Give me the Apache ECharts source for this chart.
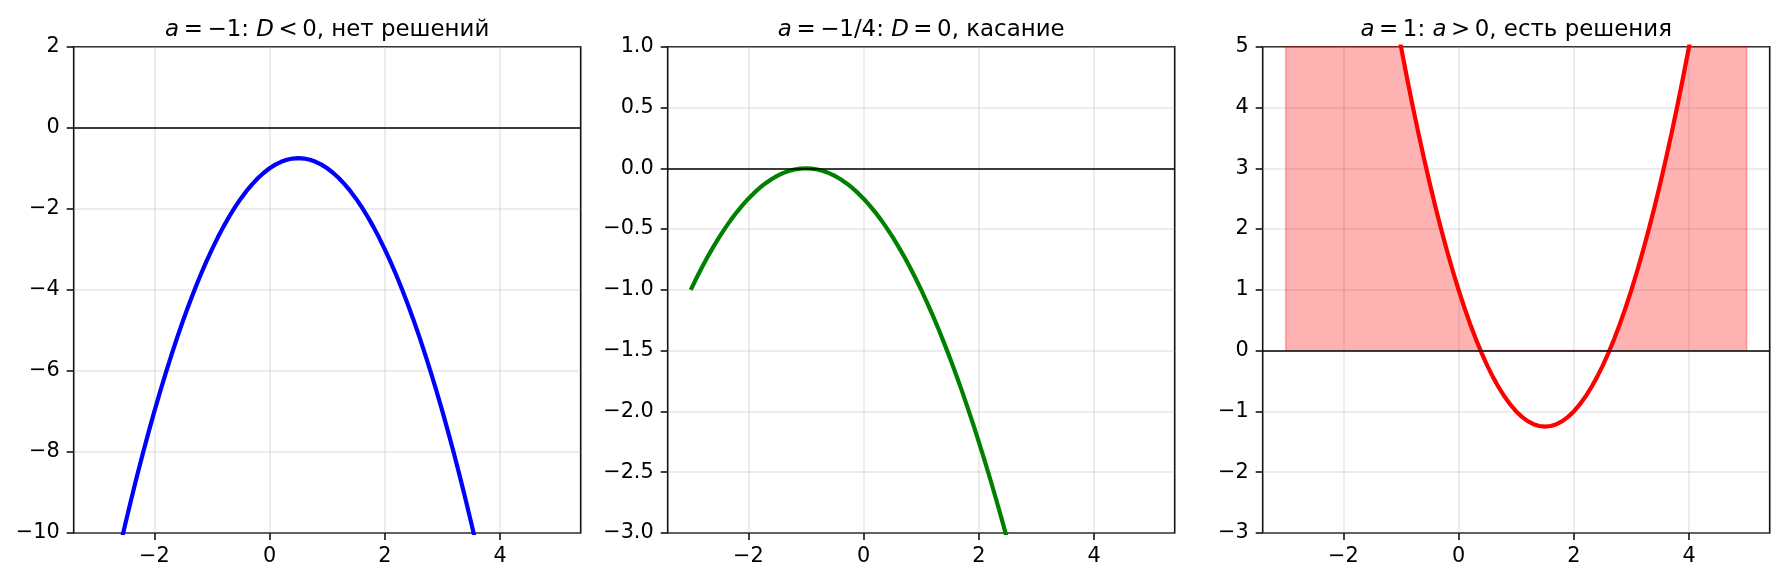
<!DOCTYPE html>
<html>
<head>
<meta charset="utf-8">
<script src="https://cdn.jsdelivr.net/npm/echarts@6/dist/echarts.min.js"></script>
<style>
html,body{margin:0;padding:0;background:#fff;}
#chart{width:1785px;height:583px;}
</style>
</head>
<body>
<div id="chart"></div>
<script>
// ---- data ----
const xs = [-3, -2.9, -2.8, -2.7, -2.6, -2.5, -2.4, -2.3, -2.2, -2.1,
            -2, -1.9, -1.8, -1.7, -1.6, -1.5, -1.4, -1.3, -1.2, -1.1,
            -1, -0.9, -0.8, -0.7, -0.6, -0.5, -0.4, -0.3, -0.2, -0.1,
            0, 0.1, 0.2, 0.3, 0.4, 0.5, 0.6, 0.7, 0.8, 0.9,
            1, 1.1, 1.2, 1.3, 1.4, 1.5, 1.6, 1.7, 1.8, 1.9,
            2, 2.1, 2.2, 2.3, 2.4, 2.5, 2.6, 2.7, 2.8, 2.9,
            3, 3.1, 3.2, 3.3, 3.4, 3.5, 3.6, 3.7, 3.8, 3.9,
            4, 4.1, 4.2, 4.3, 4.4, 4.5, 4.6, 4.7, 4.8, 4.9, 5];
// panel 1: a = -1
const yA = [-13, -12.31, -11.64, -10.99, -10.36, -9.75, -9.16, -8.59, -8.04, -7.51,
            -7, -6.51, -6.04, -5.59, -5.16, -4.75, -4.36, -3.99, -3.64, -3.31,
            -3, -2.71, -2.44, -2.19, -1.96, -1.75, -1.56, -1.39, -1.24, -1.11,
            -1, -0.91, -0.84, -0.79, -0.76, -0.75, -0.76, -0.79, -0.84, -0.91,
            -1, -1.11, -1.24, -1.39, -1.56, -1.75, -1.96, -2.19, -2.44, -2.71,
            -3, -3.31, -3.64, -3.99, -4.36, -4.75, -5.16, -5.59, -6.04, -6.51,
            -7, -7.51, -8.04, -8.59, -9.16, -9.75, -10.36, -10.99, -11.64, -12.31,
            -13, -13.71, -14.44, -15.19, -15.96, -16.75, -17.56, -18.39, -19.24, -20.11, -21];
// panel 2: a = -1/4
const yB = [-1, -0.9025, -0.81, -0.7225, -0.64, -0.5625, -0.49, -0.4225, -0.36, -0.3025,
            -0.25, -0.2025, -0.16, -0.1225, -0.09, -0.0625, -0.04, -0.0225, -0.01, -0.0025,
            0, -0.0025, -0.01, -0.0225, -0.04, -0.0625, -0.09, -0.1225, -0.16, -0.2025,
            -0.25, -0.3025, -0.36, -0.4225, -0.49, -0.5625, -0.64, -0.7225, -0.81, -0.9025,
            -1, -1.1025, -1.21, -1.3225, -1.44, -1.5625, -1.69, -1.8225, -1.96, -2.1025,
            -2.25, -2.4025, -2.56, -2.7225, -2.89, -3.0625, -3.24, -3.4225, -3.61, -3.8025,
            -4, -4.2025, -4.41, -4.6225, -4.84, -5.0625, -5.29, -5.5225, -5.76, -6.0025,
            -6.25, -6.5025, -6.76, -7.0225, -7.29, -7.5625, -7.84, -8.1225, -8.41, -8.7025, -9];
// panel 3: a = 1
const yC = [19, 18.11, 17.24, 16.39, 15.56, 14.75, 13.96, 13.19, 12.44, 11.71,
            11, 10.31, 9.64, 8.99, 8.36, 7.75, 7.16, 6.59, 6.04, 5.51,
            5, 4.51, 4.04, 3.59, 3.16, 2.75, 2.36, 1.99, 1.64, 1.31,
            1, 0.71, 0.44, 0.19, -0.04, -0.25, -0.44, -0.61, -0.76, -0.89,
            -1, -1.09, -1.16, -1.21, -1.24, -1.25, -1.24, -1.21, -1.16, -1.09,
            -1, -0.89, -0.76, -0.61, -0.44, -0.25, -0.04, 0.19, 0.44, 0.71,
            1, 1.31, 1.64, 1.99, 2.36, 2.75, 3.16, 3.59, 4.04, 4.51,
            5, 5.51, 6.04, 6.59, 7.16, 7.75, 8.36, 8.99, 9.64, 10.31, 11];
const rootsC = [0.382, 2.618];
const xTicks = [-2, 0, 2, 4];
const yRanges = [[-10, 2, 2], [-3, 1, 0.5], [-3, 5, 1]];
const T = '\u2009'; // thin space, like mathtext operator spacing
const titles = [
  '{i|a}' + T + '=' + T + '−1: {i|D}' + T + '<' + T + '0, нет решений',
  '{i|a}' + T + '=' + T + '−1/4: {i|D}' + T + '=' + T + '0, касание',
  '{i|a}' + T + '=' + T + '1: {i|a}' + T + '>' + T + '0, есть решения'
];
const colors = ['#0000ff', '#008000', '#ff0000'];

// ---- layout ----
const gridLeft = [73.7, 667.7, 1262.7];
const gridW = 507;
const gridTop = 46.7;
const gridH = 486.3;
const FONT = 'DejaVu Sans';

function pairs(x, y) { return x.map((v, i) => [v, y[i]]); }
function fmt(dec) {
  return v => (dec ? v.toFixed(1) : String(Math.round(v))).replace('-', '−');
}

// fill region where yC > 0
const fillC = [[xs[0], 0]];
xs.forEach((x, i) => { if (x < rootsC[0] && yC[i] > 0) fillC.push([x, yC[i]]); });
fillC.push([rootsC[0], 0]);
fillC.push([rootsC[1], 0]);
xs.forEach((x, i) => { if (x > rootsC[1] && yC[i] > 0) fillC.push([x, yC[i]]); });
fillC.push([xs[xs.length - 1], 0]);

const grids = [], xAxes = [], yAxes = [], series = [], title = [];
const ys = [yA, yB, yC];
for (let k = 0; k < 3; k++) {
  grids.push({ left: gridLeft[k], top: gridTop, width: gridW, height: gridH,
    show: true, borderColor: '#111', borderWidth: 1.6, backgroundColor: 'transparent' });
  xAxes.push({
    type: 'value', gridIndex: k, min: -3.4, max: 5.4, position: 'bottom',
    axisLine: { show: false, onZero: false },
    axisTick: { show: true, customValues: xTicks, length: 7, inside: false, lineStyle: { color: '#111', width: 1.6 } },
    axisLabel: { customValues: xTicks, formatter: fmt(false), color: '#000', fontFamily: FONT, fontSize: 20.8, margin: 13 },
    splitLine: { show: true, lineStyle: { color: 'rgba(176,176,176,0.3)', width: 1.6 } }
  });
  const yr = yRanges[k];
  yAxes.push({
    type: 'value', gridIndex: k, min: yr[0], max: yr[1], interval: yr[2], position: 'left',
    axisLine: { show: false, onZero: false },
    axisTick: { show: true, length: 7, inside: false, lineStyle: { color: '#111', width: 1.6 } },
    axisLabel: { formatter: fmt(k === 1), color: '#000', fontFamily: FONT, fontSize: 20.8, margin: 14 },
    splitLine: { show: true, lineStyle: { color: 'rgba(176,176,176,0.3)', width: 1.6 } }
  });
  title.push({
    text: titles[k], left: gridLeft[k] + gridW / 2, top: 19, textAlign: 'center', padding: 0,
    textStyle: { fontFamily: FONT, fontSize: 22.9, fontWeight: 'normal', color: '#000',
      rich: { i: { fontFamily: FONT, fontSize: 22.9, fontStyle: 'italic', color: '#000' } } }
  });
  if (k === 2) {
    series.push({
      type: 'line', xAxisIndex: k, yAxisIndex: k, data: fillC, showSymbol: false, symbol: 'none',
      lineStyle: { color: 'rgba(255,0,0,0.3)', width: 1.6 },
      areaStyle: { color: 'rgba(255,0,0,0.3)', origin: 0, opacity: 1 },
      clip: true, z: 2, silent: true, animation: false
    });
  }
  series.push({
    type: 'line', xAxisIndex: k, yAxisIndex: k, data: pairs(xs, ys[k]), showSymbol: false, symbol: 'none',
    lineStyle: { color: colors[k], width: 4.2, cap: 'butt', join: 'round' }, clip: true, z: 3, animation: false,
    markLine: { silent: true, symbol: 'none', label: { show: false }, animation: false,
      lineStyle: { color: '#000', width: 1.6, type: 'solid' }, data: [{ yAxis: 0 }] }
  });
}

const chart = echarts.init(document.getElementById('chart'), null, { renderer: 'canvas' });
chart.setOption({
  backgroundColor: '#fff', animation: false,
  title: title, grid: grids, xAxis: xAxes, yAxis: yAxes, series: series
});
</script>
</body>
</html>
